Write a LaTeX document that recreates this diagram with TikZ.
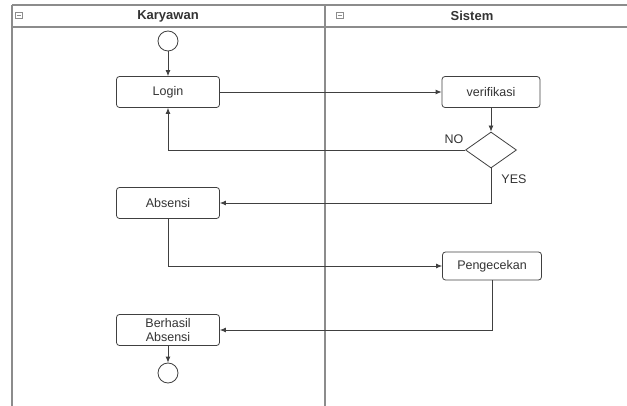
\documentclass[tikz,border=0pt]{standalone}
\usepackage{fontspec}
\setmainfont{Liberation Sans}
\usetikzlibrary{arrows.meta,shapes.geometric}

\begin{document}
\begin{tikzpicture}[x=1pt, y=-1pt, font=\fontsize{12.5}{14}\selectfont,
  box/.style = {draw=black!75, rounded corners=3pt, minimum width=103pt, minimum height=31pt, inner ysep=1pt, align=center, line width=0.8pt, text=black!80},
  dot/.style = {draw=black!75, circle, minimum size=20pt, inner sep=0pt, line width=0.8pt},
  pilih/.style = {draw=black!75, diamond, minimum width=51pt, minimum height=36pt, inner sep=0pt, line width=0.8pt},
  alur/.style = {-{Latex[length=6pt,width=5pt]}, draw=black!75, line width=0.8pt},
  lane/.style = {draw=black!45, line width=1.5pt},
  label/.style = {text=black!80}]
\useasboundingbox (0,0) rectangle (627,406);
% swimlanes
\draw[lane] (12,5) -- (627,5);
\draw[lane] (12,27) -- (627,27);
\draw[lane] (12,5) -- (12,406);
\draw[lane] (325,5) -- (325,406);
\draw[black!45, line width=0.6pt] (15,12) rectangle (22,18) (16.5,15) -- (20.5,15);
\draw[black!45, line width=0.6pt] (336,12) rectangle (343,18) (337.5,15) -- (341.5,15);
\node[label, font=\fontsize{13}{14}\bfseries] (karyawan) at (168,16) {Karyawan};
\node[label, font=\fontsize{13}{14}\bfseries] (sistem) at (472,16) {Sistem};
% activities
\node[dot] (mulai) at (168,41) {};
\node[box] (login) at (168,92) {Login};
\node[box, minimum width=98pt] (verifikasi) at (491,92) {verifikasi};
\node[pilih] (cek) at (491,150) {};
\node[label] (no) at (454,139) {NO};
\node[label] (yes) at (514,179) {YES};
\node[box] (absensi) at (168,203) {Absensi};
\node[box, minimum width=99pt, minimum height=28pt] (pengecekan) at (492,266) {Pengecekan};
\node[box] (berhasil) at (168,330) {Berhasil\\Absensi};
\node[dot] (selesai) at (168,373) {};
% flow
\draw[alur] (mulai) -- (login);
\draw[alur] (login) -- (verifikasi);
\draw[alur] (verifikasi) -- (cek);
\draw[alur] (cek.west) -| (login.south);
\draw[alur] (cek.south) |- (absensi.east);
\draw[alur] (absensi.south) |- (pengecekan.west);
\draw[alur] (pengecekan.south) |- (berhasil.east);
\draw[alur] (berhasil) -- (selesai);
\end{tikzpicture}
\end{document}
